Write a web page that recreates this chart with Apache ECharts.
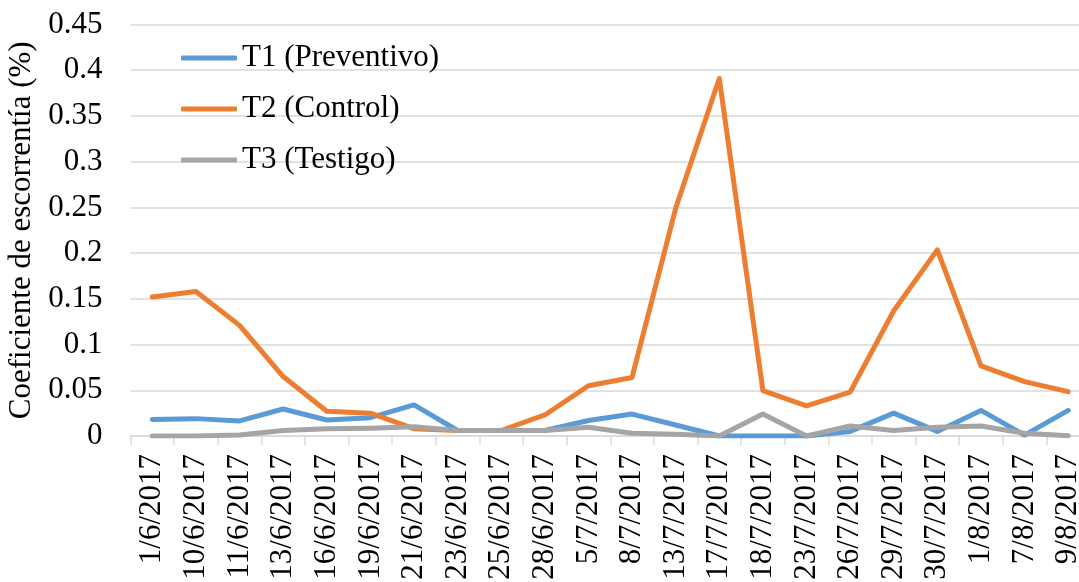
<!DOCTYPE html>
<html>
<head>
<meta charset="utf-8">
<script src="https://cdn.jsdelivr.net/npm/echarts@6/dist/echarts.min.js"></script>
<style>
html,body{margin:0;padding:0;background:#fff;}
#chart{width:1079px;height:582px;}
</style>
</head>
<body>
<div id="chart"></div>
<script>
const categories = ['1/6/2017','10/6/2017','11/6/2017','13/6/2017','16/6/2017','19/6/2017','21/6/2017','23/6/2017','25/6/2017','28/6/2017','5/7/2017','8/7/2017','13/7/2017','17/7/2017','18/7/2017','23/7/2017','26/7/2017','29/7/2017','30/7/2017','1/8/2017','7/8/2017','9/8/2017'];
const t1 = [0.018,0.019,0.0165,0.0295,0.0175,0.020,0.034,0.006,0.006,0.006,0.017,0.024,0.012,0,0,0,0.005,0.025,0.005,0.028,0.001,0.028];
const t2 = [0.152,0.158,0.121,0.065,0.027,0.025,0.008,0.006,0.006,0.023,0.055,0.064,0.249,0.391,0.0496,0.033,0.048,0.137,0.2035,0.0766,0.0594,0.0485];
const t3 = [0,0,0.001,0.006,0.008,0.0085,0.010,0.006,0.006,0.006,0.0095,0.003,0.002,0,0.024,0,0.011,0.006,0.0095,0.011,0.003,0.0003];
const seriesNames = ['T1 (Preventivo)','T2 (Control)','T3 (Testigo)'];
const colors = ['#5B9BD5','#ED7D31','#A5A5A5'];
const yTicks = {min:0, max:0.45, interval:0.05};

const font = "'Liberation Serif','Times New Roman',serif";
const chart = echarts.init(document.getElementById('chart'));
const mk = (name, data, color) => ({
  name, type:'line', data, symbol:'none', color,
  lineStyle:{width:5, color, cap:'round', join:'round'}
});
chart.setOption({
  animation:false,
  textStyle:{fontFamily:font},
  grid:{left:130.5, top:24.5, bottom:146, right:-11, containLabel:false, outerBoundsMode:'none'},
  legend:{
    orient:'vertical', left:176, top:36, itemGap:17,
    icon:'roundRect', itemWidth:56, itemHeight:5,
    textStyle:{fontFamily:font, fontSize:31, color:'#000', lineHeight:34},
    data:seriesNames
  },
  xAxis:{
    type:'category', data:categories, boundaryGap:true,
    axisLine:{lineStyle:{color:'#d9d9d9', width:1.5}},
    axisTick:{show:true, length:9, lineStyle:{color:'#d9d9d9', width:1.5}},
    axisLabel:{rotate:90, fontSize:31, color:'#000', fontFamily:font, margin:18, interval:0}
  },
  yAxis:{
    type:'value', min:yTicks.min, max:yTicks.max, interval:yTicks.interval,
    name:'Coeficiente de escorrentía (%)', nameLocation:'middle', nameRotate:90, nameGap:92,
    nameTextStyle:{fontSize:31, color:'#000', fontFamily:font},
    axisLine:{show:false}, axisTick:{show:false},
    axisLabel:{fontSize:31, color:'#000', fontFamily:font, margin:28},
    splitLine:{lineStyle:{color:'#d9d9d9', width:1.5}}
  },
  series:[mk(seriesNames[0], t1, colors[0]), mk(seriesNames[1], t2, colors[1]), mk(seriesNames[2], t3, colors[2])]
});
</script>
</body>
</html>
